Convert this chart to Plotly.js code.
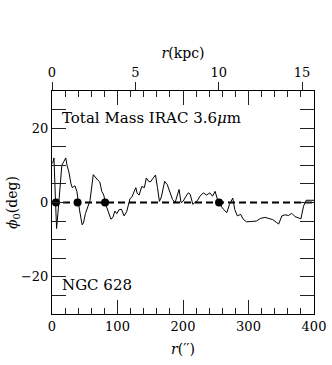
<!DOCTYPE html>
<html>
<head>
<meta charset="utf-8">
<script src="https://cdn.plot.ly/plotly-3.0.1.min.js"></script>
<style>html,body{margin:0;padding:0;background:#fff;}#chart{width:332px;height:365px;}</style>
</head>
<body>
<div id="chart"></div>
<script>
// radius in arcsec
const radiusArcsec = [1,3,5,7,9,12,15,18,21,23,26,29,31,35,38,42,46,48,51,55,58,63,66,70,73,76,79,82,86,90,93,96,99,102,106,110,114,119,122,125,128,130,133,137,141,144,147,150,153,158,161,164,167,172,176,180,184,188,191,194,197,200,204,208,211,215,218,222,226,231,236,241,245,249,254,258,262,267,271,276,279,283,288,292,297,305,312,318,325,331,337,343,346,351,356,361,366,371,376,380,384,388,395,400];
// phase angle phi0 in degrees
const phi0Deg = [10.5,12,2,-7,-3,5,10,11,12,10,8,5,4,4.5,3,-2,-6,-5.5,-3,-1,0.5,7.5,6.8,6,5.5,3,2,-0.5,-2.5,-4.5,-4,-2.3,-3,-2,-1.8,-3.6,-2.5,1,1.5,2.6,4,2.5,2,4.3,4,6.6,5.8,5.5,6.2,7.4,4,0.3,1.5,5.7,4.8,3,0.8,0,1.5,3.5,0,0.3,1.5,2.6,2.2,-0.5,0,0.5,1.7,2.6,2,2.6,1.7,3,0,-1,-1.9,-2.7,-0.5,1.2,-1.9,-3.6,-3.2,-4.5,-5.2,-5.1,-5,-4.3,-4,-4.3,-4.6,-5.4,-5.8,-3.6,-3.3,-3.5,-2.9,-3.8,-4.1,-4.4,-1,0.6,0.6,0.6];
// marked radii (phi0 crossings)
const markerR = [6,39,81,255];
const markerPhi = [0,0,0,0];
// axis ranges and ticks
const xRange = [0,400];
const yRange = [-30,30];
const kpcPerArcsec = 0.0393;
const kpcTicks = [0,5,10,15];
const yTicks = [-20,0,20];

const serif = "DejaVu Serif, serif";

const traces = [
  {x: radiusArcsec, y: phi0Deg, type:'scatter', mode:'lines',
   line:{color:'#000', width:1}, hoverinfo:'skip', showlegend:false},
  {x: markerR, y: markerPhi, type:'scatter', mode:'markers',
   marker:{color:'#000', size:8}, hoverinfo:'skip', showlegend:false},
  {x: kpcTicks, y: kpcTicks.map(()=>null), xaxis:'x2', yaxis:'y', type:'scatter', mode:'markers',
   hoverinfo:'skip', showlegend:false}
];

const layout = {
  width:332, height:365,
  margin:{l:52, r:18, t:91, b:51},
  paper_bgcolor:'#fff', plot_bgcolor:'#fff',
  font:{family:serif, size:13, color:'#000'},
  xaxis:{
    range:xRange, dtick:100, tick0:0, ticks:'inside', ticklen:14, tickwidth:1, tickcolor:'#222',
    minor:{dtick:20, ticks:'inside', ticklen:6, tickwidth:1, tickcolor:'#222'},
    showline:true, linecolor:'#000', linewidth:1, mirror:'allticks',
    showgrid:false, zeroline:false,
    tickfont:{family:serif, size:13},
    title:{text:'<i>r</i>(′′)', font:{family:serif, size:14}, standoff:11}
  },
  xaxis2:{
    overlaying:'x', side:'top', anchor:'y',
    range:[xRange[0]*kpcPerArcsec, xRange[1]*kpcPerArcsec],
    tickvals:kpcTicks, ticks:'outside', ticklen:8, tickwidth:1, tickcolor:'#222',
    showline:false, showgrid:false, zeroline:false,
    tickfont:{family:serif, size:13},
    title:{text:'<i>r</i>(kpc)', font:{family:serif, size:14}, standoff:2}
  },
  yaxis:{
    range:yRange, tickvals:yTicks, ticks:'inside', ticklen:14, tickwidth:1, tickcolor:'#222',
    minor:{dtick:5, tick0:0, ticks:'inside', ticklen:7, tickwidth:1, tickcolor:'#222'},
    showline:true, linecolor:'#000', linewidth:1, mirror:'allticks',
    showgrid:false, zeroline:false,
    tickfont:{family:serif, size:13},
    title:{text:'<i>ϕ</i><sub>0</sub>(deg)', font:{family:serif, size:14}, standoff:0}
  },
  shapes:[{type:'line', xref:'paper', x0:0, x1:1, yref:'y', y0:0, y1:0,
           line:{color:'#000', width:2, dash:'7px,4px'}, layer:'below'}],
  annotations:[
    {text:'Total Mass IRAC 3.6<i>μ</i>m', xref:'paper', yref:'paper', x:0.03, y:0.88,
     xanchor:'left', yanchor:'middle', showarrow:false, font:{family:serif, size:15}},
    {text:'NGC 628', xref:'paper', yref:'paper', x:0.03, y:0.13,
     xanchor:'left', yanchor:'middle', showarrow:false, font:{family:serif, size:15}}
  ]
};

Plotly.newPlot('chart', traces, layout, {staticPlot:true, displayModeBar:false});
</script>
</body>
</html>
